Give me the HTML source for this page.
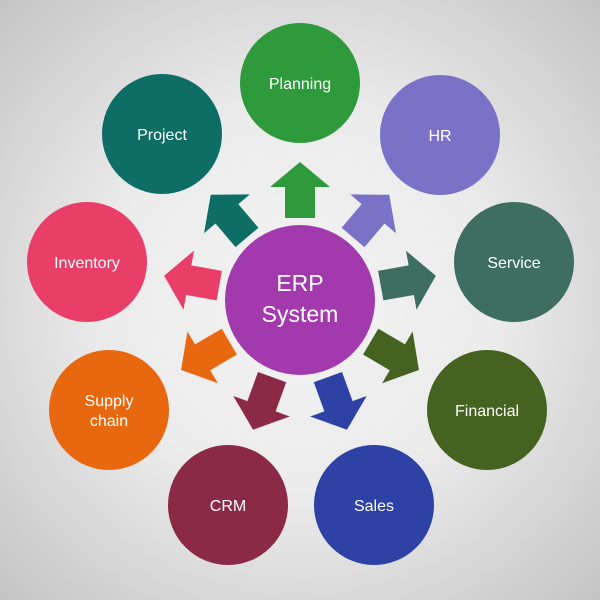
<!DOCTYPE html>
<html><head><style>
html,body{margin:0;padding:0}
body{width:600px;height:600px;background:radial-gradient(circle at 50% 50%,#f2f2f2 0%,#ececec 45%,#c4c4c4 100%);}
svg{display:block}
text{font-family:"Liberation Sans",sans-serif;fill:#fff;text-anchor:middle}
</style></head><body>
<svg width="600" height="600" viewBox="0 0 600 600">
<defs><polygon id="a" points="-15,-82 15,-82 15,-113 30,-113 0,-138 -30,-113 -15,-113"/></defs>
<g transform="translate(300,300)">
<use href="#a" fill="#2e9a3c"/>
<use href="#a" fill="#7b72c8" transform="rotate(40.3)"/>
<use href="#a" fill="#3d6e60" transform="rotate(79.9)"/>
<use href="#a" fill="#456221" transform="rotate(120.5)"/>
<use href="#a" fill="#2e41a4" transform="rotate(160.1)"/>
<use href="#a" fill="#8a2a48" transform="rotate(199.9)"/>
<use href="#a" fill="#e8680f" transform="rotate(239.5)"/>
<use href="#a" fill="#e83e68" transform="rotate(280.1)"/>
<use href="#a" fill="#0e6e66" transform="rotate(319.7)"/>
</g>
<circle cx="300" cy="300" r="75" fill="#a23aae"/>
<text x="300" y="291" font-size="23">ERP</text>
<text x="300" y="322" font-size="23">System</text>
<circle cx="300" cy="83" r="60" fill="#2e9a3c"/><text x="300" y="89" font-size="16">Planning</text>
<circle cx="440" cy="135" r="60" fill="#7b72c8"/><text x="440" y="141" font-size="16">HR</text>
<circle cx="514" cy="262" r="60" fill="#3d6e60"/><text x="514" y="268" font-size="16">Service</text>
<circle cx="487" cy="410" r="60" fill="#456221"/><text x="487" y="416" font-size="16">Financial</text>
<circle cx="374" cy="505" r="60" fill="#2e41a4"/><text x="374" y="511" font-size="16">Sales</text>
<circle cx="228" cy="505" r="60" fill="#8a2a48"/><text x="228" y="511" font-size="16">CRM</text>
<circle cx="109" cy="410" r="60" fill="#e8680f"/><text x="109" y="406" font-size="16">Supply</text><text x="109" y="426" font-size="16">chain</text>
<circle cx="87" cy="262" r="60" fill="#e83e68"/><text x="87" y="268" font-size="16">Inventory</text>
<circle cx="162" cy="134" r="60" fill="#0e6e66"/><text x="162" y="140" font-size="16">Project</text>
</svg>
</body></html>
